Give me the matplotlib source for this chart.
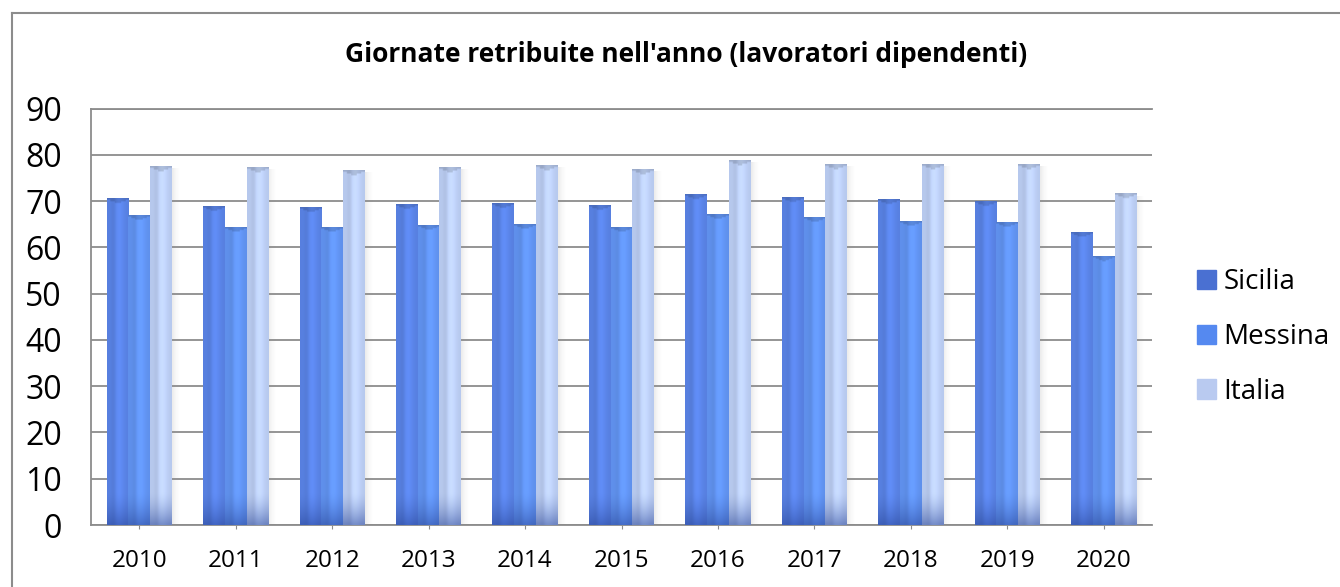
import numpy as np
import matplotlib
matplotlib.use("Agg")
import matplotlib.pyplot as plt
from matplotlib.colors import to_rgb
from matplotlib.lines import Line2D

plt.rcParams['font.family'] = ['Open Sans', 'DejaVu Sans']

years = ["2010", "2011", "2012", "2013", "2014", "2015", "2016", "2017", "2018", "2019", "2020"]
sicilia = [70.6, 68.8, 68.6, 69.2, 69.4, 69.0, 71.5, 70.9, 70.3, 70.0, 63.3]
messina = [67.0, 64.3, 64.3, 64.7, 64.9, 64.3, 67.2, 66.4, 65.7, 65.5, 58.0]
italia = [77.5, 77.3, 76.6, 77.3, 77.8, 76.9, 78.8, 78.0, 78.0, 78.0, 71.6]
series_names = ["Sicilia", "Messina", "Italia"]
series_colors = ["#5D88EE", "#6599FA", "#C2D5FC"]
legend_colors = ["#4A70D2", "#5589F0", "#B9CAF0"]

W, H = 1340, 587
fig = plt.figure(figsize=(W / 100, H / 100), dpi=100)
ax = fig.add_axes([91 / W, 1 - 525 / H, (1152 - 91) / W, (525 - 108.7) / H])

x = np.arange(len(years))
bw = 0.225
containers = []
for i, (vals, name, col) in enumerate(zip([sicilia, messina, italia], series_names, series_colors)):
    c = ax.bar(x + (i - 1) * bw, vals, bw, color=col, label=name, zorder=2, linewidth=0)
    containers.append(c)


def shade(rect, col):
    x0, w, h = rect.get_x(), rect.get_width(), rect.get_height()
    nx, ny = 40, 200
    u = np.linspace(0, 1, nx)
    yv = np.linspace(0, h, ny)
    base = np.array(to_rgb(col))
    prof = 0.94 + 0.10 * np.exp(-((u - 0.55) / 0.25) ** 2) - 0.06 * np.exp(-((u - 0.3) / 0.12) ** 2)
    img = np.ones((ny, nx, 4))
    for k in range(3):
        img[:, :, k] = np.clip(base[k] * prof[None, :], 0, 1)
    dark = np.clip(1 - yv / 7.0, 0, 1) ** 1.5
    navy = np.array([0.14, 0.25, 0.58])
    for k in range(3):
        img[:, :, k] = img[:, :, k] * (1 - 0.5 * dark[:, None]) + navy[k] * 0.5 * dark[:, None]
    top = yv > h - 0.9
    for j in range(ny):
        if top[j]:
            frac = (yv[j] - (h - 0.9)) / 0.9
            v = np.abs(u - 0.5) < 0.5 * frac + 0.05
            img[j, v, :3] *= 0.86
    ax.imshow(img, extent=[x0, x0 + w, 0, h], origin='lower', aspect='auto',
              zorder=3, interpolation='bilinear')


def shadow(rect):
    x1, h = rect.get_x() + rect.get_width(), rect.get_height()
    sw = 0.1
    u = np.linspace(0, 1, 30)
    img = np.zeros((1, 30, 4))
    img[0, :, :3] = 0.55
    img[0, :, 3] = 0.18 * (1 - u) ** 2
    ax.imshow(img, extent=[x1, x1 + sw, 0, h - 0.5], origin='lower', aspect='auto',
              zorder=1.5, interpolation='bilinear')


for c, col in zip(containers, series_colors):
    for rect in c:
        shade(rect, col)
for rect in containers[2]:
    shadow(rect)

ax.set_xlim(-0.5, len(years) - 0.5)
ax.set_ylim(0, 90)
ax.set_yticks(np.arange(0, 91, 10))
ax.set_xticks(x)
ax.set_xticklabels(years, fontsize=17.5)
ax.tick_params(axis='y', length=0, pad=21, labelsize=23)
ax.tick_params(axis='x', length=3, color='#8c8c8c', pad=14)
ax.grid(axis='y', color='#8c8c8c', linewidth=1.3, zorder=1)
ax.set_axisbelow(True)
ax.spines['right'].set_visible(False)
for s in ['left', 'bottom', 'top']:
    ax.spines[s].set_color('#8c8c8c')
    ax.spines[s].set_linewidth(1.3)

fig.text(686 / W, 1 - 55 / H, "Giornate retribuite nell'anno (lavoratori dipendenti)",
         ha='center', va='center', fontsize=19, fontweight='bold')

handles = [plt.Rectangle((0, 0), 1, 1, color=c) for c in legend_colors]
leg = fig.legend(handles, series_names, loc='center left',
                 bbox_to_anchor=(1172 / W, 1 - 337 / H), frameon=False,
                 fontsize=20, handlelength=0.7, handleheight=0.7,
                 handletextpad=0.25, labelspacing=0.96)

fig.add_artist(Line2D([11.5 / W, 1], [1 - 13 / H, 1 - 13 / H], color='#8c8c8c', lw=1.5))
fig.add_artist(Line2D([11.5 / W, 11.5 / W], [0, 1 - 13 / H], color='#8c8c8c', lw=1.5))

fig.savefig("out.png", dpi=100)
